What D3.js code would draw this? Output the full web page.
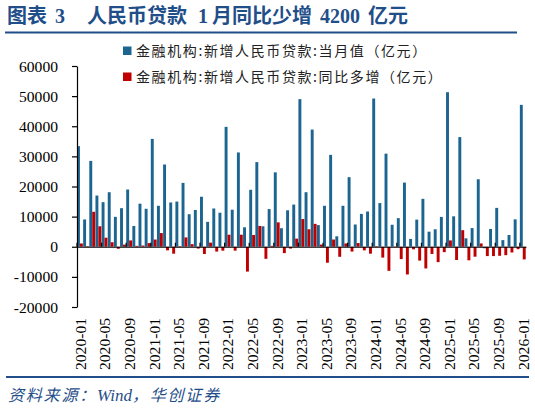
<!DOCTYPE html>
<html>
<head>
<meta charset="utf-8">
<script src="https://cdn.jsdelivr.net/npm/d3@7"></script>
<style>
  body { margin: 0; background: #fff; }
  svg { display: block; }
</style>
</head>
<body>
<svg width="535" height="410"></svg>
<script>
// months on the x axis
const months = [
  "2020-01","2020-02","2020-03","2020-04","2020-05","2020-06","2020-07","2020-08","2020-09","2020-10","2020-11","2020-12",
  "2021-01","2021-02","2021-03","2021-04","2021-05","2021-06","2021-07","2021-08","2021-09","2021-10","2021-11","2021-12",
  "2022-01","2022-02","2022-03","2022-04","2022-05","2022-06","2022-07","2022-08","2022-09","2022-10","2022-11","2022-12",
  "2023-01","2023-02","2023-03","2023-04","2023-05","2023-06","2023-07","2023-08","2023-09","2023-10","2023-11","2023-12",
  "2024-01","2024-02","2024-03","2024-04","2024-05","2024-06","2024-07","2024-08","2024-09","2024-10","2024-11","2024-12",
  "2025-01","2025-02","2025-03","2025-04","2025-05","2025-06","2025-07","2025-08","2025-09","2025-10","2025-11","2025-12",
  "2026-01"
];

// 新增人民币贷款:当月值 (亿元)
const monthly = [
  33400, 9057, 28500, 17000, 14800, 18100, 9927, 12800, 19000, 6898, 14300, 12600,
  35800, 13600, 27300, 14700, 15000, 21200, 10800, 12200, 16600, 8262, 12700, 11300,
  39800, 12300, 31300, 6454, 18900, 28100, 6790, 12500, 24700, 6152, 12100, 14000,
  49000, 18100, 38900, 7188, 13600, 30500, 3459, 13600, 23100, 7384, 10900, 11700,
  49200, 14500, 30900, 7300, 9500, 21300, 2600, 9000, 15900, 5000, 5800, 9900,
  51300, 10100, 36400, 2800, 6200, 22400, -500, 5900, 12900, 2200, 3900, 9100,
  47100
];

// 新增人民币贷款:同比多增 (亿元)
const yoy = [
  1100, 199, 11600, 6800, 3000, 1500, -673, 700, 2100, 285, 400, 1200,
  2400, 4543, -1200, -2300, 200, 3100, 873, -600, -2400, 1364, -1600, -1300,
  4000, -1300, 4000, -8246, 3900, 6900, -4010, 300, 8100, -2110, -600, 2700,
  9200, 5800, 7600, 734, -5300, 2400, -3331, 1100, -1600, 1232, -1200, -2300,
  200, -3600, -8000, 112, -4100, -9200, -859, -4600, -7200, -2384, -5100, -1800,
  2100, -4400, 5500, -4500, -3300, 1100, -3100, -3100, -3000, -2800, -1900, -800,
  -4200
];

const xTickLabels = [
  "2020-01","2020-05","2020-09","2021-01","2021-05","2021-09","2022-01","2022-05","2022-09","2023-01",
  "2023-05","2023-09","2024-01","2024-05","2024-09","2025-01","2025-05","2025-09","2026-01"
];
const yTicks = [-20000, -10000, 0, 10000, 20000, 30000, 40000, 50000, 60000];

const seriesNames = ["金融机构:新增人民币贷款:当月值（亿元）", "金融机构:新增人民币贷款:同比多增（亿元）"];
const seriesColors = ["#1c6590", "#c00000"];

const svg = d3.select("svg");
const titleBlue = "#1f4e89";
const serif = "'Liberation Serif', 'Times New Roman', serif";
const cjk = "'Noto Sans CJK SC', sans-serif";

// title
const title = svg.append("text")
  .attr("y", 23)
  .attr("fill", titleBlue)
  .attr("font-size", 20)
  .attr("font-weight", "bold");
[["图表", 7, cjk], ["3", 55, serif], ["人民币贷款", 87, cjk], ["1", 198, serif],
 ["月同比少增", 212, cjk], ["4200", 320, serif], ["亿元", 368, cjk]].forEach(p => {
  title.append("tspan").attr("x", p[1]).attr("font-family", p[2]).text(p[0]);
});

svg.append("line")
  .attr("x1", 5).attr("x2", 517).attr("y1", 32.5).attr("y2", 32.5)
  .attr("stroke", titleBlue).attr("stroke-width", 1.8);

// scales
const x = d3.scaleBand().domain(months).range([77, 526]).padding(0);
const x1 = d3.scaleBand().domain([0, 1]).range([0, x.bandwidth() - 0.3]);
const y = d3.scaleLinear().domain([-20000, 60000]).range([307, 66]);

// bars
const barData = months.map((m, i) => ({ m, vals: [monthly[i], yoy[i]] }));
[0, 1].forEach(s => {
  svg.append("g").selectAll("rect")
    .data(barData)
    .join("rect")
    .attr("x", d => x(d.m) + x1(s))
    .attr("width", x1.bandwidth())
    .attr("y", d => y(Math.max(0, d.vals[s])))
    .attr("height", d => Math.abs(y(d.vals[s]) - y(0)))
    .attr("fill", seriesColors[s]);
});

// y axis
const yAxis = svg.append("g")
  .attr("transform", "translate(77,0)")
  .call(d3.axisLeft(y).tickValues(yTicks).tickSize(5).tickSizeOuter(0).tickPadding(14)
    .tickFormat(d => String(d)));
yAxis.selectAll("path, line").attr("stroke", "#000").attr("stroke-width", 1.2);
yAxis.selectAll("text")
  .attr("font-family", serif).attr("font-size", 15.6).attr("fill", "#000");

// x axis line at zero with inner ticks on category boundaries
const xAxis = svg.append("g")
  .attr("transform", `translate(0,${y(0)})`)
  .call(d3.axisBottom(x).tickValues(xTickLabels).tickSize(-4).tickSizeOuter(0).tickFormat(""));
xAxis.selectAll(".tick").attr("transform", d => `translate(${x(d)},0)`);
xAxis.selectAll("path, line").attr("stroke", "#000").attr("stroke-width", 1.2);

// rotated month labels at the bottom
const xLabels = svg.append("g")
  .attr("transform", "translate(0,318)")
  .call(d3.axisBottom(x).tickValues(xTickLabels).tickSize(0).tickPadding(0));
xLabels.select(".domain").remove();
xLabels.selectAll("text")
  .attr("transform", "rotate(-90)")
  .attr("text-anchor", "end")
  .attr("x", 0).attr("y", 0).attr("dy", "0.36em").attr("dx", 0)
  .attr("font-family", serif).attr("font-size", 15.6).attr("fill", "#000");

// legend
seriesNames.forEach((name, i) => {
  const g = svg.append("g").attr("transform", `translate(123,${50.5 + i * 26})`);
  g.append("rect").attr("x", 0).attr("y", -4).attr("width", 8.5).attr("height", 8.5)
    .attr("fill", seriesColors[i]);
  g.append("text").attr("x", 13).attr("y", 0).attr("dy", "0.36em")
    .attr("font-family", cjk).attr("font-size", 14).attr("letter-spacing", 1.6)
    .attr("fill", "#222")
    .text(name);
});

// footer
svg.append("line")
  .attr("x1", 6).attr("x2", 529).attr("y1", 377).attr("y2", 377)
  .attr("stroke", titleBlue).attr("stroke-width", 1.8);
const src = svg.append("text")
  .attr("x", 8).attr("y", 401)
  .attr("fill", titleBlue).attr("font-size", 16).attr("font-style", "italic")
  .attr("font-family", cjk).attr("letter-spacing", 1.8);
src.append("tspan").text("资料来源：");
src.append("tspan").attr("font-family", serif).attr("font-size", 17).attr("letter-spacing", 0).text("Wind");
src.append("tspan").text("，华创证券");
</script>
</body>
</html>
